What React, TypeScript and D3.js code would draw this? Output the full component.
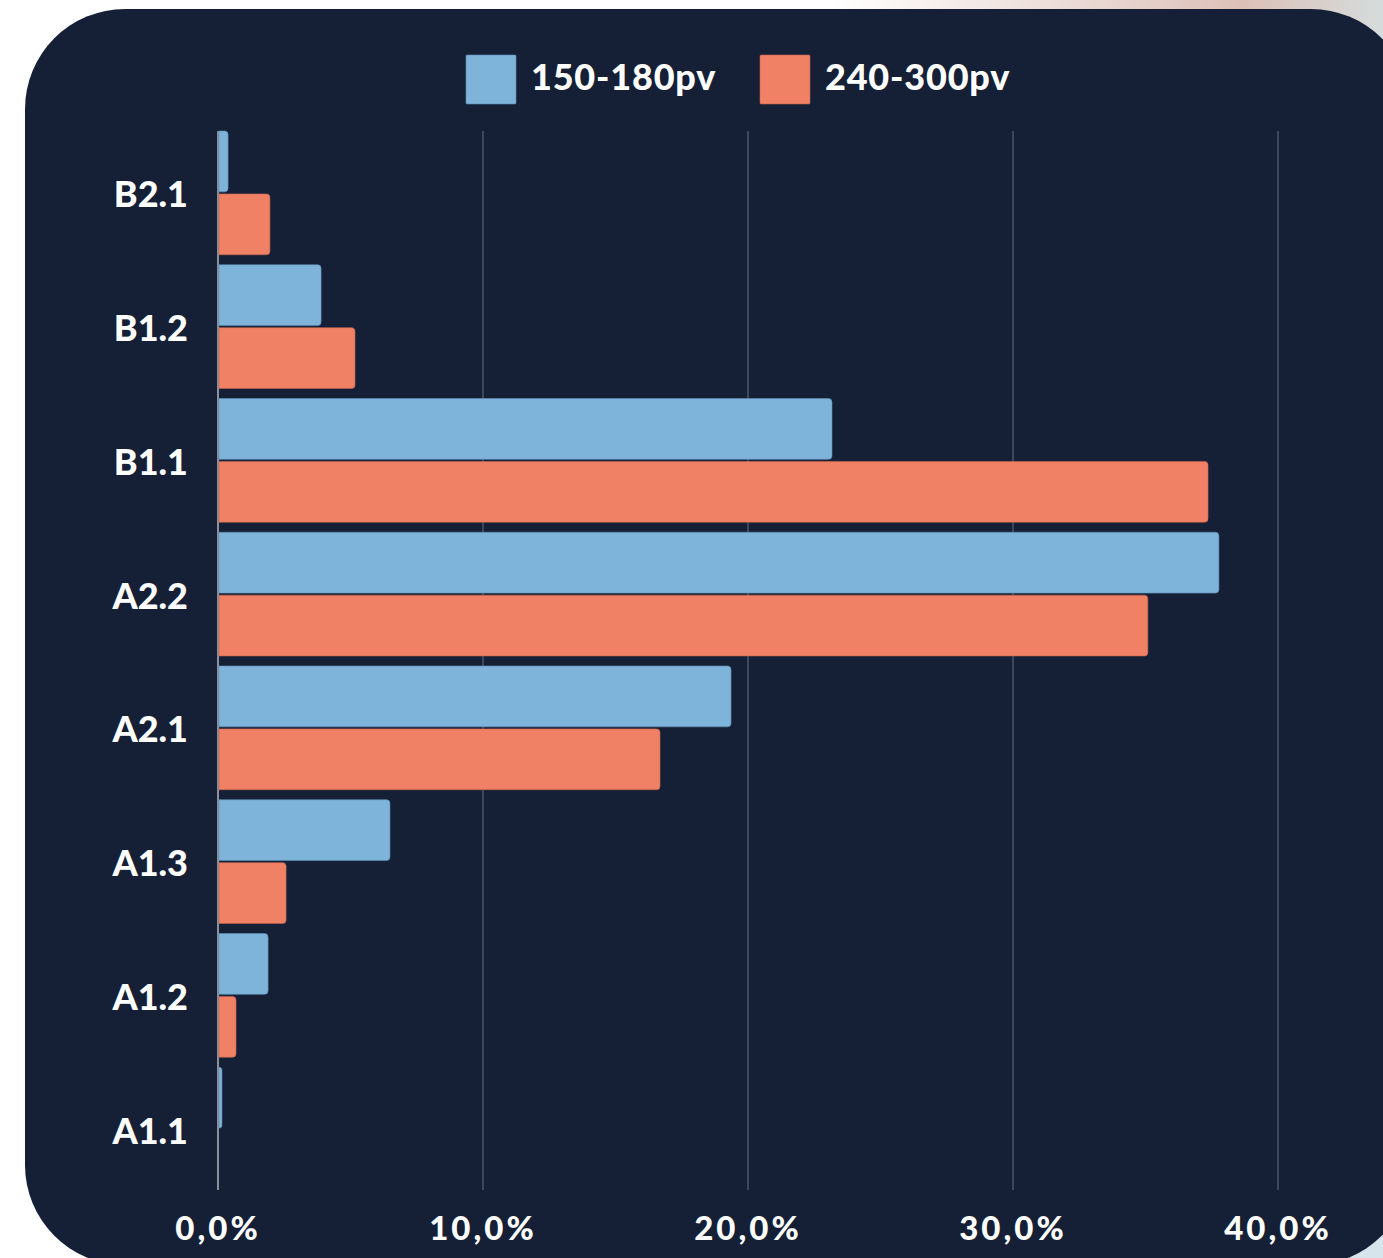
import React from "react";
import * as d3 from "d3";

const categories = ["B2.1", "B1.2", "B1.1", "A2.2", "A2.1", "A1.3", "A1.2", "A1.1"];
const seriesNames = ["150-180pv", "240-300pv"];
const seriesA = [0.38, 3.89, 23.17, 37.77, 19.36, 6.49, 1.89, 0.15];
const seriesB = [1.96, 5.17, 37.36, 35.09, 16.68, 2.57, 0.68, 0];
const ticks = [0, 10, 20, 30, 40];
const colors = ["#7eb4da", "#f08165"];

const W = 1383;
const H = 1258;

export default function App() {
  const x = d3.scaleLinear().domain([0, 40]).range([218, 1278]);
  const y = d3.scaleBand<string>().domain(categories).range([131, 1191]).paddingInner(10 / 134).paddingOuter(0).align(0);
  const inner = d3.scaleBand<number>().domain([0, 1]).range([0, y.bandwidth()]).paddingInner(4 / 124);
  const series = [seriesA, seriesB];
  const fmt = (v: number) => v.toFixed(1).replace(".", ",") + "%";
  const r = 3.5;
  const barPath = (x0: number, x1: number, y0: number, h: number) => {
    const w = x1 - x0;
    const rr = Math.min(r, w);
    if (w <= 0) return "";
    return `M${x0},${y0}H${x1 - rr}Q${x1},${y0} ${x1},${y0 + rr}V${y0 + h - rr}Q${x1},${y0 + h} ${x1 - rr},${y0 + h}H${x0}Z`;
  };
  const font = "Lato, 'Noto Sans', sans-serif";
  return (
    <svg width={W} height={H} style={{ position: "absolute", left: 0, top: 0 }}>
      <defs>
        <linearGradient id="outer" x1="0" y1="0" x2="1" y2="0">
          <stop offset="0" stopColor="#ffffff" />
          <stop offset="0.6" stopColor="#ffffff" />
          <stop offset="0.8" stopColor="#e8d6d0" />
          <stop offset="0.9" stopColor="#dcc0b8" />
          <stop offset="1" stopColor="#d5dcdc" />
        </linearGradient>
      </defs>
      <rect x={0} y={0} width={W} height={H} fill="#ffffff" />
      <rect x={0} y={0} width={W} height={120} fill="url(#outer)" />
      <rect x={1250} y={1150} width={133} height={108} fill="#d6e5ec" />
      <rect x={25} y={9} width={1386} height={1256} rx={100} ry={100} fill="#151f36" />
      {ticks.map((t) => (
        <line key={t} x1={x(t)} x2={x(t)} y1={131} y2={1190} stroke={t === 0 ? "#8a8f99" : "#4b5569"} strokeWidth={t === 0 ? 2 : 1.5} />
      ))}
      {categories.map((c, i) => (
        <g key={c}>
          {series.map((s, k) => (
            <path
              key={k}
              d={barPath(x(0) + 1, x(s[i]), (y(c) as number) + (inner(k) as number), inner.bandwidth())}
              fill={colors[k]}
              stroke={k === 0 ? "#5f8fb3" : "#c2644f"}
              strokeWidth={0.6}
            />
          ))}
          <text
            x={188}
            y={(y(c) as number) + y.bandwidth() / 2}
            dy="0.4em"
            textAnchor="end"
            fill="#ffffff"
            fontFamily={font}
            fontWeight={900}
            fontSize={36}
          >
            {c}
          </text>
        </g>
      ))}
      {ticks.map((t) => (
        <text key={t} x={x(t)} y={1240} textAnchor="middle" fill="#ffffff" fontFamily={font} fontWeight={900} fontSize={33} letterSpacing={3}>
          {fmt(t)}
        </text>
      ))}
      {seriesNames.map((n, k) => {
        const lx = k === 0 ? 466 : 760;
        return (
          <g key={n}>
            <rect x={lx} y={55} width={50} height={49} fill={colors[k]} stroke={k === 0 ? "#5f8fb3" : "#c2644f"} strokeWidth={0.6} rx={1} />
            <text x={lx + 65} y={90} fill="#ffffff" fontFamily={font} fontWeight={900} fontSize={36} letterSpacing={0.8}>
              {n}
            </text>
          </g>
        );
      })}
    </svg>
  );
}
